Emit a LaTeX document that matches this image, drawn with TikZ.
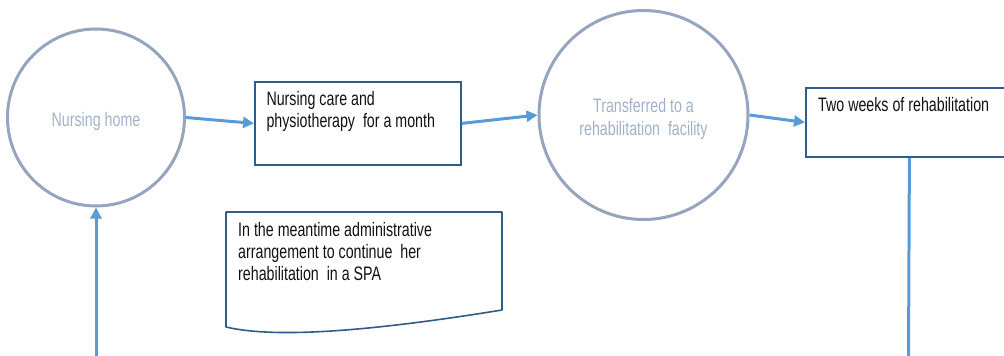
\documentclass[tikz,border=0pt]{standalone}
\usepackage{fontspec}
\setmainfont[FakeStretch=0.73]{Liberation Sans}
\usetikzlibrary{arrows.meta}
\definecolor{ringc}{HTML}{95A5BE}
\definecolor{ringtxt}{HTML}{A3B1C7}
\definecolor{boxc}{HTML}{2F5C8A}
\definecolor{arrowc}{HTML}{5B9BD5}
\definecolor{txtc}{HTML}{111111}
\begin{document}
\begin{tikzpicture}[x=1pt,y=-1pt,
  ring/.style={circle, draw=ringc, line width=3pt, inner sep=0pt},
  boxnode/.style={rectangle, draw=boxc, line width=1.8pt, inner sep=0pt},
  docshape/.style={draw=boxc, line width=1.6pt, line join=round},
  lbl/.style={inner sep=0pt, font=\fontsize{19.5}{22.3}\selectfont, text=txtc},
  ringlbl/.style={lbl, text=ringtxt},
  arrow/.style={draw=arrowc, line width=3pt, -{Triangle[length=11pt,width=11pt]}},
  link/.style={draw=arrowc, line width=3pt}
]
\path[use as bounding box, clip] (0,0) rectangle (1004,356);

% circles
\node[ring, minimum size=177pt] (c1) at (96,117.5) {};
\node[ring, minimum size=209pt] (c2) at (643.5,115) {};
\node[ringlbl, anchor=base] (t1) at (96,126.7) {Nursing home};
\node[ringlbl, anchor=north, align=center] (t2) at (643.5,98.5) {Transferred to a\\rehabilitation\ \ facility};

% boxes
\node[boxnode, minimum width=206pt, minimum height=83pt, anchor=north west] (b1) at (254,81) {};
\node[lbl, anchor=north west, align=left] (tb1) at (266.3,91.3) {Nursing care and\\physiotherapy\ \ for a month};
\node[boxnode, minimum width=207pt, minimum height=69pt, anchor=north west] (b2) at (805,87) {};
\node[lbl, anchor=base west] (tb2) at (818,111) {Two weeks of rehabilitation};

% document shape
\draw[docshape] (226,212) -- (502,212) -- (502,310) .. controls (330,338) and (260,335) .. (226,327) -- cycle;
\node[lbl, anchor=north west, align=left] (doc) at (238,222) {In the meantime administrative\\arrangement to continue\ \ her\\rehabilitation\ \ in a SPA};

% connectors
\coordinate (s1) at (96,360);
\coordinate (s2) at (908.5,360);
\draw[arrow] (c1.east) -- (b1.west);
\draw[arrow] (b1.east) -- (c2.west);
\draw[arrow] (c2.east) -- (b2.west);
\draw[arrow] (s1) -- (c1.south);
\draw[link] (b2.south) -- (s2);
\end{tikzpicture}
\end{document}
